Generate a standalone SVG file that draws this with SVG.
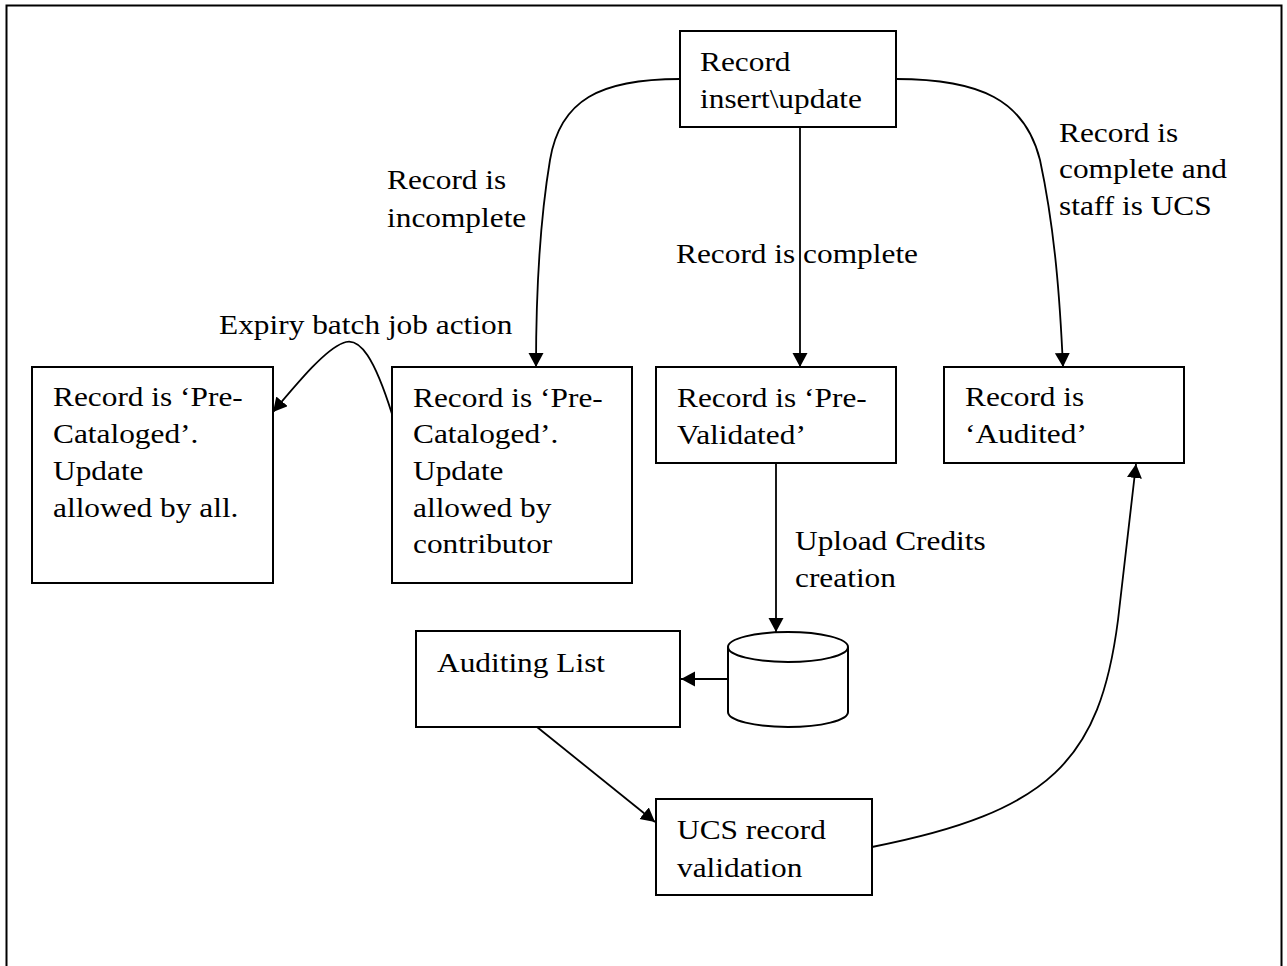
<svg xmlns="http://www.w3.org/2000/svg" width="1287" height="966" viewBox="0 0 1287 966">
<style>
.box{fill:#fff;stroke:#000;stroke-width:2}
.frame{fill:#fff;stroke:#000;stroke-width:2}
.t{font-family:"Liberation Serif","Times New Roman",serif;font-size:28px;fill:#000}
.c{fill:none;stroke:#000;stroke-width:1.8}
.a{marker-end:url(#arr)}
</style>
<defs>
<marker id="arr" markerUnits="userSpaceOnUse" markerWidth="16" markerHeight="16" refX="14" refY="7.5" orient="auto">
<path d="M0,0 L14,7.5 L0,15 z" fill="#000"/>
</marker>
</defs>
<rect class="frame" x="6.5" y="5.5" width="1275" height="990"/>

<g id="connectors">
<path class="c a" d="M680,79 C600,79 560,100 550,160 C540,220 536,300 536,367"/>
<path class="c a" d="M800,127 L800,367"/>
<path class="c a" d="M896,79 C980,79 1025,100 1040,160 C1055,230 1060,300 1063,367"/>
<path class="c a" d="M392,414 C375,360 360,335 343,343 C325,350 300,380 273,412"/>
<path class="c a" d="M776,463 L776,632"/>
<path class="c a" d="M728,679 L681,679"/>
<path class="c a" d="M537,727 L655,822"/>
<path class="c a" d="M872,847 C1050,812 1100,760 1118,620 C1127,540 1132,500 1136,464"/>
</g>

<g id="labels">
<text class="t" transform="matrix(1.12 0 0 1 387 0)"><tspan x="0" y="189">Record is</tspan><tspan x="0" y="227">incomplete</tspan></text>
<text class="t" transform="matrix(1.12 0 0 1 676 0)" x="0" y="263">Record is complete</text>
<text class="t" transform="matrix(1.12 0 0 1 1059 0)"><tspan x="0" y="142">Record is</tspan><tspan x="0" y="178">complete and</tspan><tspan x="0" y="215">staff is UCS</tspan></text>
<text class="t" transform="matrix(1.12 0 0 1 219 0)" x="0" y="334">Expiry batch job action</text>
<text class="t" transform="matrix(1.12 0 0 1 795 0)"><tspan x="0" y="550">Upload Credits</tspan><tspan x="0" y="587">creation</tspan></text>
</g>

<g id="node-insert">
<rect class="box" x="680" y="31" width="216" height="96"/>
<text class="t" transform="matrix(1.12 0 0 1 700 0)"><tspan x="0" y="71">Record</tspan><tspan x="0" y="108">insert\update</tspan></text>
</g>

<g id="node-precat-all">
<rect class="box" x="32" y="367" width="241" height="216"/>
<text class="t" transform="matrix(1.12 0 0 1 53 0)"><tspan x="0" y="406">Record is ‘Pre-</tspan><tspan x="0" y="443">Cataloged’.</tspan><tspan x="0" y="480">Update</tspan><tspan x="0" y="517">allowed by all.</tspan></text>
</g>

<g id="node-precat-contrib">
<rect class="box" x="392" y="367" width="240" height="216"/>
<text class="t" transform="matrix(1.12 0 0 1 413 0)"><tspan x="0" y="407">Record is ‘Pre-</tspan><tspan x="0" y="443">Cataloged’.</tspan><tspan x="0" y="480">Update</tspan><tspan x="0" y="517">allowed by</tspan><tspan x="0" y="553">contributor</tspan></text>
</g>

<g id="node-prevalidated">
<rect class="box" x="656" y="367" width="240" height="96"/>
<text class="t" transform="matrix(1.12 0 0 1 677 0)"><tspan x="0" y="407">Record is ‘Pre-</tspan><tspan x="0" y="444">Validated’</tspan></text>
</g>

<g id="node-audited">
<rect class="box" x="944" y="367" width="240" height="96"/>
<text class="t" transform="matrix(1.12 0 0 1 965 0)"><tspan x="0" y="406">Record is</tspan><tspan x="0" y="443">‘Audited’</tspan></text>
</g>

<g id="node-db">
<path class="box" d="M728,647 L728,712 A60,15 0 0 0 848,712 L848,647 A60,15 0 0 0 728,647 Z"/>
<path class="c" style="stroke-width:2" d="M728,647 A60,15 0 0 0 848,647"/>
</g>

<g id="node-auditing-list">
<rect class="box" x="416" y="631" width="264" height="96"/>
<text class="t" transform="matrix(1.12 0 0 1 437 0)" x="0" y="672">Auditing List</text>
</g>

<g id="node-ucs">
<rect class="box" x="656" y="799" width="216" height="96"/>
<text class="t" transform="matrix(1.12 0 0 1 677 0)"><tspan x="0" y="839">UCS record</tspan><tspan x="0" y="877">validation</tspan></text>
</g>
</svg>
